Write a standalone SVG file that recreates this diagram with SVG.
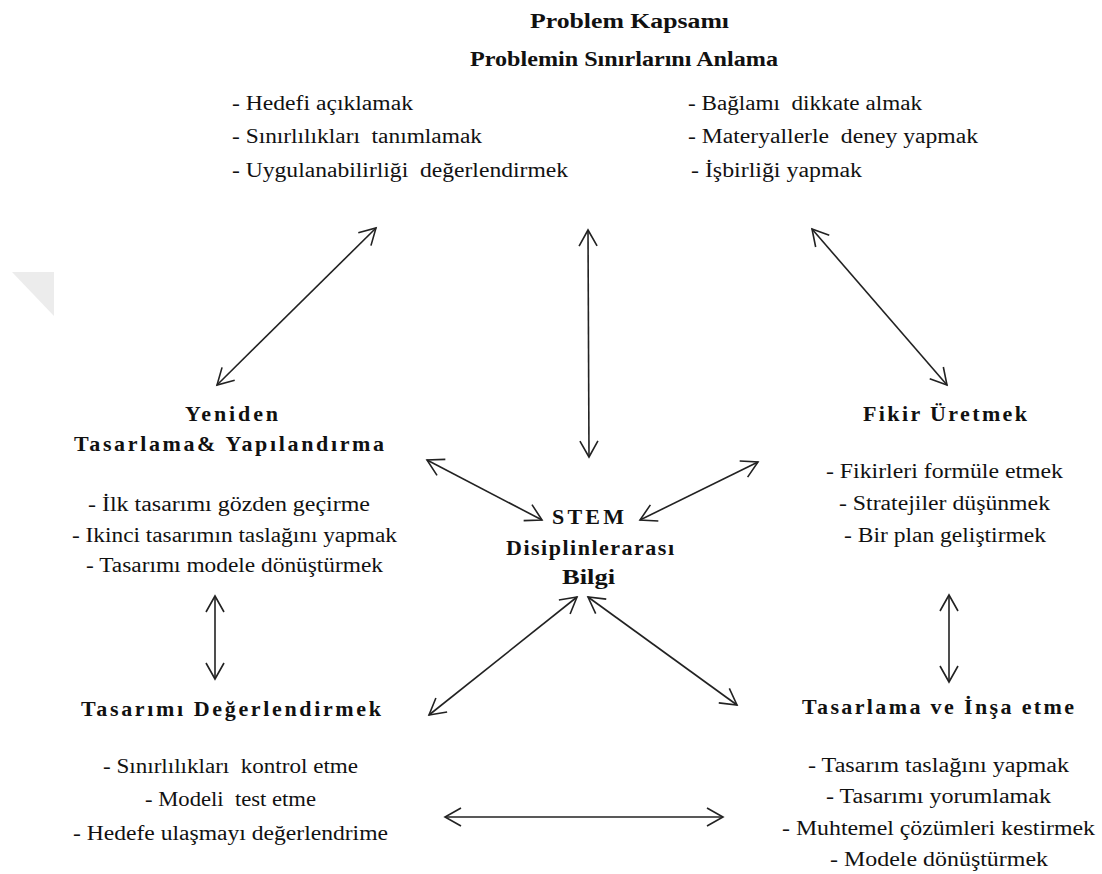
<svg xmlns="http://www.w3.org/2000/svg" width="1102" height="874" viewBox="0 0 1102 874">
<style>
text{font-family:'Liberation Serif','DejaVu Serif','Times New Roman',serif;fill:#111;}
.t{font-size:20px;font-weight:bold;}
.h{font-size:22px;font-weight:bold;}
.l{font-size:20px;}
.c{fill:none;stroke:#222;stroke-width:1.6;marker-start:url(#ah);marker-end:url(#ah);}
</style>
<defs>
<marker id="ah" markerUnits="userSpaceOnUse" markerWidth="24" markerHeight="24" viewBox="-20 -12 24 24" refX="0" refY="0" orient="auto-start-reverse">
<path d="M-16,-9 L0,0 L-16,9" fill="none" stroke="#222" stroke-width="1.6"/>
</marker>
</defs>
<rect width="1102" height="874" fill="#fff"/>
<polygon points="12,272 54,272 54,316" fill="#ececec"/>

<g font-family="Liberation Serif, DejaVu Serif, serif">
<g id="problem">
<text class="t" x="530" y="28" textLength="199" lengthAdjust="spacingAndGlyphs">Problem Kapsamı</text>
<text class="t" x="470" y="66" textLength="308" lengthAdjust="spacingAndGlyphs">Problemin Sınırlarını Anlama</text>
<text class="l" xml:space="preserve" x="232" y="110" textLength="181" lengthAdjust="spacingAndGlyphs">- Hedefi açıklamak</text>
<text class="l" xml:space="preserve" x="232" y="143" textLength="250" lengthAdjust="spacingAndGlyphs">- Sınırlılıkları  tanımlamak</text>
<text class="l" xml:space="preserve" x="232" y="177" textLength="336" lengthAdjust="spacingAndGlyphs">- Uygulanabilirliği  değerlendirmek</text>
<text class="l" xml:space="preserve" x="688" y="110" textLength="234" lengthAdjust="spacingAndGlyphs">- Bağlamı  dikkate almak</text>
<text class="l" xml:space="preserve" x="688" y="143" textLength="290" lengthAdjust="spacingAndGlyphs">- Materyallerle  deney yapmak</text>
<text class="l" xml:space="preserve" x="691" y="177" textLength="171" lengthAdjust="spacingAndGlyphs">- İşbirliği yapmak</text>
</g>

<g id="yeniden">
<text class="h" x="185" y="421" textLength="93">Yeniden</text>
<text class="h" x="74" y="451" textLength="310">Tasarlama&amp; Yapılandırma</text>
<text class="l" x="88" y="511" textLength="282" lengthAdjust="spacingAndGlyphs">- İlk tasarımı gözden geçirme</text>
<text class="l" x="72" y="542" textLength="325" lengthAdjust="spacingAndGlyphs">- Ikinci tasarımın taslağını yapmak</text>
<text class="l" x="86" y="572" textLength="297" lengthAdjust="spacingAndGlyphs">- Tasarımı modele dönüştürmek</text>
</g>

<g id="stem">
<text class="h" x="552" y="524" textLength="72">STEM</text>
<text class="h" x="506" y="555" textLength="168">Disiplinlerarası</text>
<text class="h" x="562" y="584" textLength="53" lengthAdjust="spacingAndGlyphs">Bilgi</text>
</g>

<g id="fikir">
<text class="h" x="863" y="421" textLength="164">Fikir Üretmek</text>
<text class="l" x="826" y="478" textLength="237" lengthAdjust="spacingAndGlyphs">- Fikirleri formüle etmek</text>
<text class="l" x="839" y="510" textLength="211" lengthAdjust="spacingAndGlyphs">- Stratejiler düşünmek</text>
<text class="l" x="844" y="542" textLength="202" lengthAdjust="spacingAndGlyphs">- Bir plan geliştirmek</text>
</g>

<g id="degerlendirmek">
<text class="h" x="81" y="716" textLength="300">Tasarımı Değerlendirmek</text>
<text class="l" xml:space="preserve" x="103" y="773" textLength="255" lengthAdjust="spacingAndGlyphs">- Sınırlılıkları  kontrol etme</text>
<text class="l" xml:space="preserve" x="145" y="806" textLength="171" lengthAdjust="spacingAndGlyphs">- Modeli  test etme</text>
<text class="l" x="73" y="840" textLength="315" lengthAdjust="spacingAndGlyphs">- Hedefe ulaşmayı değerlendrime</text>
</g>

<g id="insa">
<text class="h" x="802" y="714" textLength="272">Tasarlama ve İnşa etme</text>
<text class="l" x="808" y="772" textLength="261" lengthAdjust="spacingAndGlyphs">- Tasarım taslağını yapmak</text>
<text class="l" x="826" y="803" textLength="225" lengthAdjust="spacingAndGlyphs">- Tasarımı yorumlamak</text>
<text class="l" x="782" y="835" textLength="313" lengthAdjust="spacingAndGlyphs">- Muhtemel çözümleri kestirmek</text>
<text class="l" x="830" y="866" textLength="218" lengthAdjust="spacingAndGlyphs">- Modele dönüştürmek</text>
</g>
</g>

<g id="connectors">
<line class="c" x1="217" y1="385" x2="376" y2="228"/>
<line class="c" x1="588" y1="230" x2="589" y2="457"/>
<line class="c" x1="812" y1="229" x2="947" y2="385"/>
<line class="c" x1="427" y1="460" x2="542" y2="520"/>
<line class="c" x1="758" y1="462" x2="640" y2="520"/>
<line class="c" x1="577" y1="597" x2="429" y2="715"/>
<line class="c" x1="588" y1="597" x2="737" y2="705"/>
<line class="c" x1="215" y1="596" x2="215" y2="679"/>
<line class="c" x1="949" y1="595" x2="949" y2="682"/>
<line class="c" x1="445" y1="817" x2="723" y2="817"/>
</g>
</svg>
